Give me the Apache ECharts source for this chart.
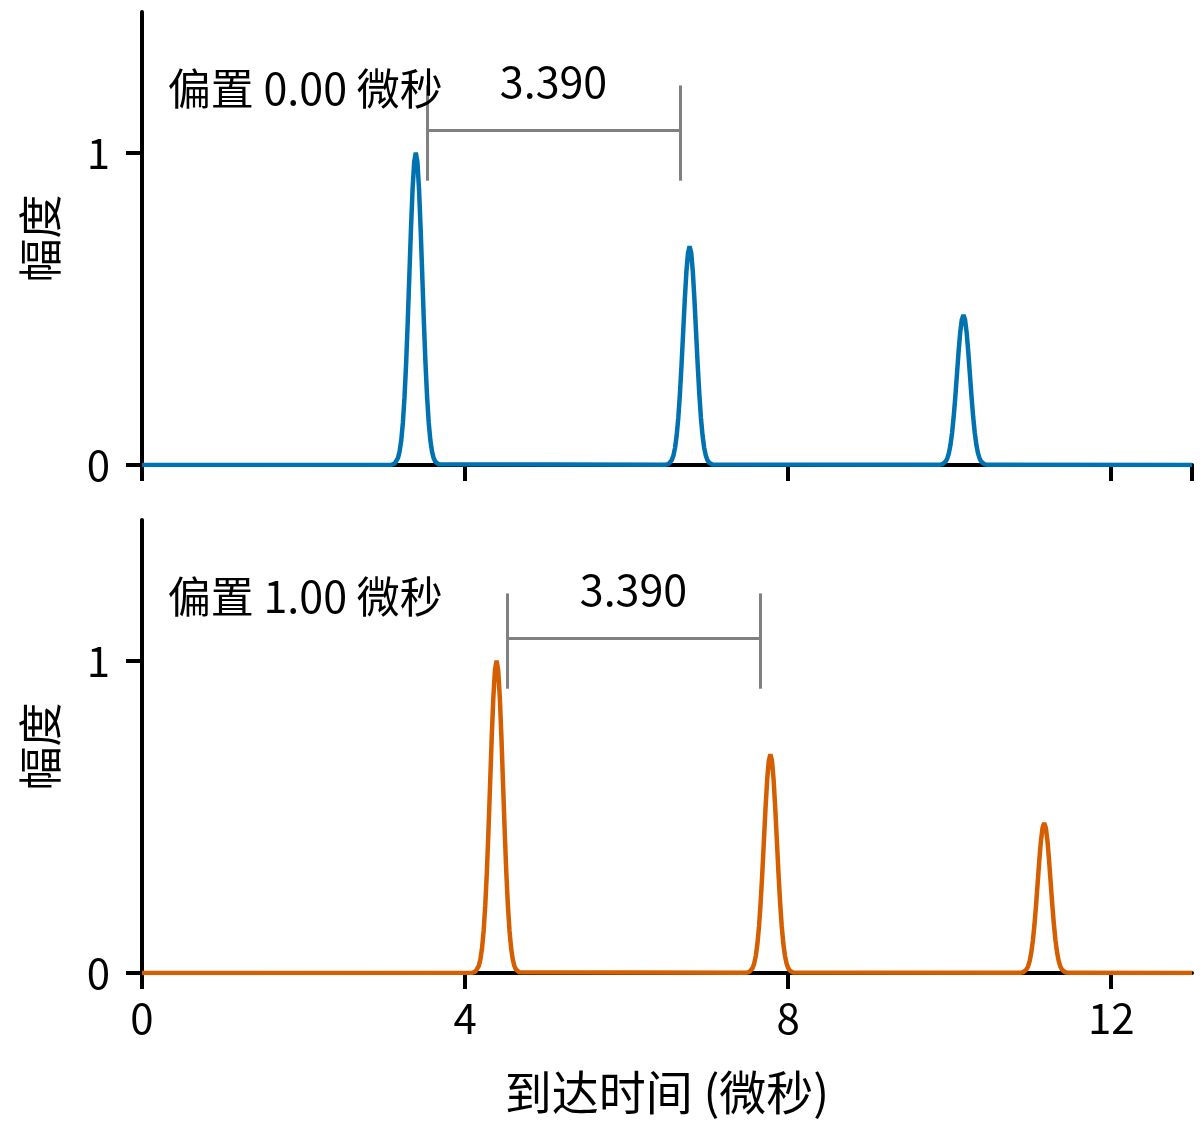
<!DOCTYPE html>
<html>
<head>
<meta charset="utf-8">
<script src="https://cdn.jsdelivr.net/npm/echarts@6/dist/echarts.min.js"></script>
<style>html,body{margin:0;padding:0;background:#fff}#c{width:1204px;height:1137px}</style>
</head>
<body>
<div id="c"></div>
<script>
// ---- data ----
const offsetsUs = [0.00, 1.00];                 // offset per panel (µs)
const offsetLabels = ['偏置 0.00 微秒', '偏置 1.00 微秒'];
const peakCentersTop = [3.39, 6.78, 10.17];
const peakCentersBottom = [4.39, 7.78, 11.17];
const peakAmps = [1.00, 0.70, 0.48];
// pulse shape (normalized) sampled at offsets from the peak centre
const pulseOffsets = [-0.30,-0.28,-0.26,-0.24,-0.22,-0.20,-0.18,-0.16,-0.14,-0.12,-0.10,-0.08,-0.06,-0.04,-0.02,0.00,
                      0.02,0.04,0.06,0.08,0.10,0.12,0.14,0.16,0.18,0.20,0.22,0.24,0.26,0.28,0.30];
const pulseShape = [0.0009,0.0022,0.0051,0.0111,0.0228,0.0439,0.0796,0.1353,0.2163,0.3247,0.4578,0.6065,0.7548,0.8825,0.9692,1.0000,
                    0.9692,0.8825,0.7548,0.6065,0.4578,0.3247,0.2163,0.1353,0.0796,0.0439,0.0228,0.0111,0.0051,0.0022,0.0009];
const spacingLabel = '3.390';
const bracketTop = {x1: 3.53, x2: 6.66};
const bracketBottom = {x1: 4.52, x2: 7.65};
const bracketY = 1.07, bracketLo = 0.91, bracketHi = 1.215;
const xTickInterval = 4, xMax = 13;
const yMax = 1.45;

function buildCurve(centers) {
  const pts = [[0, 0]];
  centers.forEach((c, i) => {
    pulseOffsets.forEach((o, j) => pts.push([+(c + o).toFixed(3), peakAmps[i] * pulseShape[j]]));
  });
  pts.push([xMax, 0]);
  return pts;
}

const FONT = '"Noto Sans CJK SC", "Noto Sans", sans-serif';
const chart = echarts.init(document.getElementById('c'), null, {renderer: 'canvas'});

function xAxis(idx, showLabels) {
  return {
    type: 'value', gridIndex: idx, min: 0, max: xMax, interval: xTickInterval,
    splitLine: {show: false},
    axisLine: {show: true, onZero: false, lineStyle: {color: '#000', width: 4}},
    axisTick: {show: true, length: 16, lineStyle: {color: '#000', width: 4}},
    axisLabel: {show: showLabels, color: '#000', fontSize: 42, fontFamily: FONT, margin: 24,
                showMaxLabel: false, hideOverlap: false},
    name: showLabels ? '到达时间 (微秒)' : '',
    nameLocation: 'middle', nameGap: 96,
    nameTextStyle: {color: '#000', fontSize: 47, fontFamily: FONT}
  };
}
function yAxis(idx) {
  return {
    type: 'value', gridIndex: idx, min: 0, max: yMax, interval: 1,
    splitLine: {show: false},
    axisLine: {show: true, lineStyle: {color: '#000', width: 4}},
    axisTick: {show: true, length: 16, lineStyle: {color: '#000', width: 4}},
    axisLabel: {color: '#000', fontSize: 42, fontFamily: FONT, margin: 32, showMaxLabel: false},
    name: '幅度', nameLocation: 'middle', nameGap: 80, nameRotate: 90,
    nameTextStyle: {color: '#000', fontSize: 44, fontFamily: FONT}
  };
}
function annotation(idx, br, offLabel) {
  const mid = (br.x1 + br.x2) / 2;
  const base = {show: true, formatter: '{b}', color: '#000', fontSize: 43, fontFamily: FONT, textBorderWidth: 0, opacity: 1};
  return {
    type: 'scatter', xAxisIndex: idx, yAxisIndex: idx, symbolSize: 0, silent: true, z: 5,
    itemStyle: {opacity: 1},
    data: [
      {name: offLabel, value: [0.32, 1.205], label: Object.assign({}, base, {position: 'right', distance: 0})},
      {name: spacingLabel, value: [mid, 1.228], label: Object.assign({}, base, {position: 'inside'})}
    ],
    label: base,
    markLine: {
      silent: true, symbol: 'none', animation: false,
      label: {show: false},
      lineStyle: {color: '#808080', width: 3, type: 'solid', opacity: 1},
      emphasis: {disabled: true},
      data: [
        [{coord: [br.x1, bracketY]}, {coord: [br.x2, bracketY]}],
        [{coord: [br.x1, bracketLo]}, {coord: [br.x1, bracketHi]}],
        [{coord: [br.x2, bracketLo]}, {coord: [br.x2, bracketHi]}]
      ]
    }
  };
}

chart.setOption({
  animation: false,
  backgroundColor: '#fff',
  grid: [
    {left: 142, top: 12, width: 1050, height: 453, containLabel: false, outerBoundsMode: 'none'},
    {left: 142, top: 520, width: 1050, height: 453, containLabel: false, outerBoundsMode: 'none'}
  ],
  xAxis: [xAxis(0, false), xAxis(1, true)],
  yAxis: [yAxis(0), yAxis(1)],
  series: [
    {type: 'line', xAxisIndex: 0, yAxisIndex: 0, data: buildCurve(peakCentersTop), showSymbol: false,
     lineStyle: {color: '#0072B2', width: 4.5}, itemStyle: {color: '#0072B2'}, z: 3, silent: true},
    {type: 'line', xAxisIndex: 1, yAxisIndex: 1, data: buildCurve(peakCentersBottom), showSymbol: false,
     lineStyle: {color: '#D55E00', width: 4.5}, itemStyle: {color: '#D55E00'}, z: 3, silent: true},
    annotation(0, bracketTop, offsetLabels[0]),
    annotation(1, bracketBottom, offsetLabels[1])
  ]
});
</script>
</body>
</html>
